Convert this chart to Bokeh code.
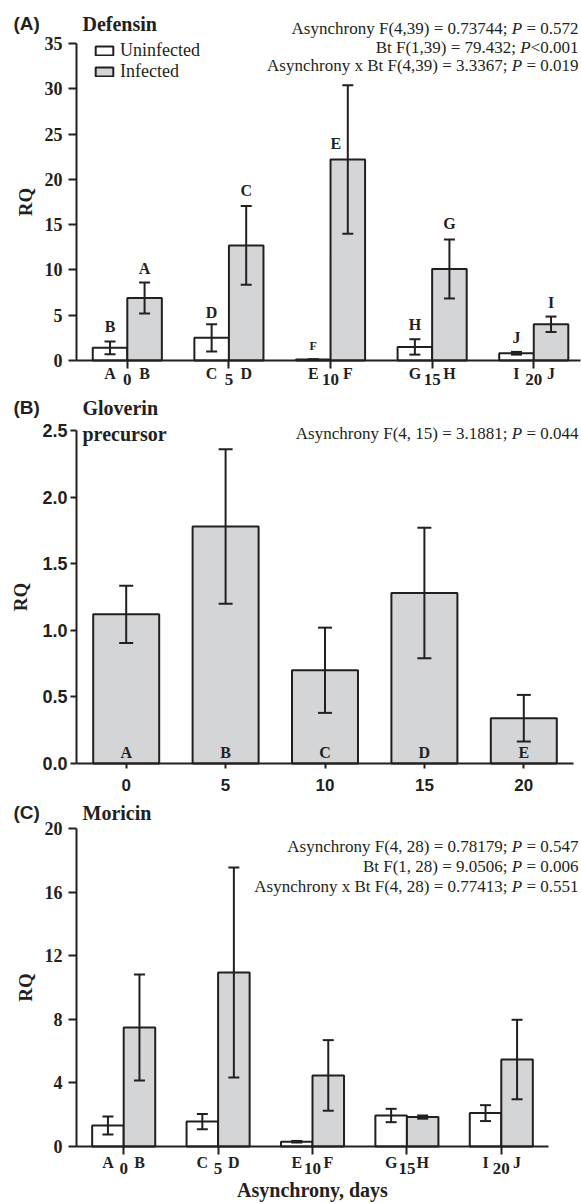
from bokeh.plotting import figure
from bokeh.models import (ColumnDataSource, Label, LabelSet, Whisker, TeeHead,
                          FixedTicker, Legend, LegendItem, Range1d, NumeralTickFormatter)
from bokeh.layouts import column
from bokeh.embed import file_html
from bokeh.resources import INLINE
from bokeh.core.properties import value

# ---------------- data ----------------
days = [0, 5, 10, 15, 20]
unin_codes = ["A", "C", "E", "G", "I"]
inf_codes = ["B", "D", "F", "H", "J"]

# (A) Defensin
def_unin = [1.4, 2.5, 0.1, 1.5, 0.8]
def_unin_se = [0.7, 1.5, 0.05, 0.85, 0.15]
def_inf = [6.9, 12.7, 22.2, 10.1, 4.0]
def_inf_se = [1.7, 4.35, 8.2, 3.25, 0.85]
def_unin_sig = ["B", "D", "F", "H", "J"]
def_inf_sig = ["A", "C", "E", "G", "I"]
def_unin_sig_y = [3.75, 5.3, 1.65, 3.95, 2.55]
def_inf_sig_y = [10.15, 18.75, 23.95, 15.1, 6.4]
def_stats = [("Asynchrony F(4,39) = 0.73744; ", "P", " = 0.572"),
             ("Bt F(1,39) = 79.432; ", "P", "<0.001"),
             ("Asynchrony x Bt F(4,39) = 3.3367; ", "P", " = 0.019")]

# (B) Gloverin precursor
glo = [1.12, 1.78, 0.70, 1.28, 0.34]
glo_se = [0.215, 0.58, 0.32, 0.49, 0.175]
glo_codes = ["A", "B", "C", "D", "E"]
glo_stats = [("Asynchrony F(4, 15) = 3.1881; ", "P", " = 0.044")]

# (C) Moricin
mor_unin = [1.32, 1.57, 0.30, 1.95, 2.10]
mor_unin_se = [0.56, 0.48, 0.05, 0.42, 0.50]
mor_inf = [7.48, 10.94, 4.47, 1.85, 5.47]
mor_inf_se = [3.33, 6.60, 2.22, 0.10, 2.50]
mor_stats = [("Asynchrony F(4, 28) = 0.78179; ", "P", " = 0.547"),
             ("Bt F(1, 28) = 9.0506; ", "P", " = 0.006"),
             ("Asynchrony x Bt F(4, 28) = 0.77413; ", "P", " = 0.551")]

# ---------------- style ----------------
SERIF = "Liberation Serif"
SANS = "Liberation Sans"
DARK = "#231f20"
GRAY = "#d4d5d7"
W = 581

TIMES_W = {" ": 250, "=": 564, "<": 564, ".": 250, ";": 278}
for d in "0123456789":
    TIMES_W[d] = 500


def tw(s, size):
    return sum(TIMES_W.get(c, 500) for c in s) / 1000.0 * size


def lab(p, text, x, y, xoff=0, yoff=0, size=16, font=SERIF, style="bold",
        align="left", baseline="middle", angle=0):
    p.add_layout(Label(x=x, y=y, x_offset=xoff, y_offset=yoff, text=text,
                       text_font=font, text_font_size=f"{size}px",
                       text_font_style=style, text_align=align, angle=angle,
                       text_baseline=baseline, text_color=DARK))


def stats(p, lines, x, y, xoff, yoffs, size=17):
    for (pre, it, tail), yo in zip(lines, yoffs):
        t = tail.strip()
        gap_t = tw(" ", size) if tail.startswith(" ") else 0
        lab(p, t, x, y, xoff, yo, size, SERIF, "normal", "right")
        xp = xoff - tw(t, size) - gap_t
        lab(p, it, x, y, xp, yo, size, SERIF, "italic", "right")
        pr = pre.rstrip()
        gap_p = tw(" ", size) if pre.endswith(" ") else 0
        xq = xp - 0.611 * size - gap_p
        lab(p, pr, x, y, xq, yo, size, SERIF, "normal", "right")


def panel(height, left, right, top, bottom, xlo, xhi, ylo, yhi):
    """Figure whose frame is the whole canvas; axes are pinned at data positions."""
    sx = (right - left) / (xhi - xlo)
    sy = (bottom - top) / (yhi - ylo)
    xr = Range1d(xlo - left / sx, xhi + (W - right) / sx)
    yr = Range1d(ylo - (height - bottom) / sy, yhi + top / sy)
    p = figure(width=W, height=height, x_range=xr, y_range=yr,
               output_backend="svg", toolbar_location=None,
               min_border_left=0, min_border_right=0, min_border_top=0,
               min_border_bottom=0)
    p.xaxis.fixed_location = ylo
    p.yaxis.fixed_location = xlo
    p.xaxis.bounds = (xlo, xhi)
    p.yaxis.bounds = (ylo, yhi)
    p.grid.visible = False
    p.outline_line_color = None
    p.background_fill_color = "white"
    return p


def style_axes(p, xfont, xsize, yfont, ysize, xtick=8, ytick=8, x_standoff=2, y_standoff=6):
    for ax, f, s, t in ((p.xaxis[0], xfont, xsize, xtick), (p.yaxis[0], yfont, ysize, ytick)):
        ax.axis_line_width = 2
        ax.axis_line_color = DARK
        ax.major_tick_line_width = 2
        ax.major_tick_line_color = DARK
        ax.major_tick_out = t
        ax.major_tick_in = 0
        ax.minor_tick_line_color = None
        ax.major_label_text_font = f
        ax.major_label_text_font_size = s
        ax.major_label_text_font_style = "bold"
        ax.major_label_text_color = DARK
    p.xaxis[0].major_label_standoff = x_standoff
    p.yaxis[0].major_label_standoff = y_standoff


def errbars(p, xs, means, ses, cap):
    src = ColumnDataSource(dict(x=xs, lo=[m - s for m, s in zip(means, ses)],
                                hi=[m + s for m, s in zip(means, ses)]))
    w = Whisker(source=src, base="x", lower="lo", upper="hi", dimension="height",
                line_color=DARK, line_width=2, level="overlay",
                upper_head=TeeHead(size=cap, line_color=DARK, line_width=2),
                lower_head=TeeHead(size=cap, line_color=DARK, line_width=2))
    p.add_layout(w)


def letters(p, xs, ys, texts, yoff, size=16):
    src = ColumnDataSource(dict(x=xs, y=ys, t=texts))
    p.add_layout(LabelSet(source=src, x="x", y="y", text="t", y_offset=yoff,
                          text_font=value(SERIF), text_font_size=value(f"{size}px"),
                          text_font_style="bold", text_align="center",
                          text_baseline="middle", text_color=DARK))


RQ_ANGLE = 1.5707963267948966

# ---------------- (A) Defensin ----------------
BWA = 1.7
pA = panel(389, 76, 580, 43, 360, -2.5, 22.3, 0, 35)
ux = [d - BWA / 2 for d in days]
ix = [d + BWA / 2 for d in days]
rA_u = pA.vbar(x=ux, top=def_unin, width=BWA, bottom=0, fill_color="white",
               line_color=DARK, line_width=2)
rA_i = pA.vbar(x=ix, top=def_inf, width=BWA, bottom=0, fill_color=GRAY,
               line_color=DARK, line_width=2)
errbars(pA, ux, def_unin, def_unin_se, 11)
errbars(pA, ix, def_inf, def_inf_se, 11)
style_axes(pA, SERIF, "17px", SERIF, "18px", 8, 8, 5, 6)
pA.xaxis.ticker = FixedTicker(ticks=days)
pA.yaxis.ticker = FixedTicker(ticks=[0, 5, 10, 15, 20, 25, 30, 35])
sig_u_sz = [16, 16, 12, 16, 16]
for x, y, t, s in zip(ux, def_unin_sig_y, def_unin_sig, sig_u_sz):
    lab(pA, t, x, y, 0, 0, s, SERIF, "bold", "center")
for x, y, t in zip(ix, def_inf_sig_y, def_inf_sig):
    lab(pA, t, x, y, -12 if t == "E" else 0, 0, 16, SERIF, "bold", "center")
letters(pA, ux, [0] * 5, unin_codes, -13)
letters(pA, ix, [0] * 5, inf_codes, -13)
lab(pA, "RQ", -2.5, 17.5, -51, 0, 19, SERIF, "bold", "center", "middle", RQ_ANGLE)
lab(pA, "(A)", -2.5, 35, -63, 20, 19, SANS, "bold")
lab(pA, "Defensin", -2.5, 35, 6, 20, 20, SERIF, "bold")
stats(pA, def_stats, 22.3, 35, -2, [15, -4, -22])
legA = Legend(items=[LegendItem(label="Uninfected", renderers=[rA_u]),
                     LegendItem(label="Infected", renderers=[rA_i])],
              location=(93, 307), padding=0, margin=0, spacing=0,
              border_line_color=None, background_fill_alpha=0,
              glyph_width=22, glyph_height=11, label_height=21, label_standoff=5,
              label_text_font=SERIF, label_text_font_size="18px",
              label_text_color=DARK)
pA.add_layout(legA)

# ---------------- (B) Gloverin precursor ----------------
BWB = 3.32
pB = panel(406, 76, 573, 41, 374, -2.5, 22.5, 0, 2.5)
pB.vbar(x=days, top=glo, width=BWB, bottom=0, fill_color=GRAY, line_color=DARK, line_width=2)
errbars(pB, days, glo, glo_se, 14)
style_axes(pB, SANS, "17px", SANS, "18px", 5, 6, 10, 3)
pB.xaxis.ticker = FixedTicker(ticks=days)
pB.yaxis.ticker = FixedTicker(ticks=[0, 0.5, 1.0, 1.5, 2.0, 2.5])
pB.yaxis.formatter = NumeralTickFormatter(format="0.0")
letters(pB, days, [0] * 5, glo_codes, 11)
lab(pB, "RQ", -2.5, 1.25, -56, 0, 19, SERIF, "bold", "center", "middle", RQ_ANGLE)
lab(pB, "(B)", -2.5, 2.5, -63, 23, 19, SANS, "bold")
lab(pB, "Gloverin", -2.5, 2.5, 6, 23, 20, SERIF, "bold")
lab(pB, "precursor", -2.5, 2.5, 6, -3, 20, SERIF, "bold")
stats(pB, glo_stats, 22.5, 2.5, 5, [-3])

# ---------------- (C) Moricin ----------------
BWC = 1.67
pC = panel(408, 76, 548, 33, 351, -2.5, 22.5, 0, 20)
uxc = [d - BWC / 2 for d in days]
ixc = [d + BWC / 2 for d in days]
pC.vbar(x=uxc, top=mor_unin, width=BWC, bottom=0, fill_color="white", line_color=DARK, line_width=2)
pC.vbar(x=ixc, top=mor_inf, width=BWC, bottom=0, fill_color=GRAY, line_color=DARK, line_width=2)
errbars(pC, uxc, mor_unin, mor_unin_se, 11)
errbars(pC, ixc, mor_inf, mor_inf_se, 11)
style_axes(pC, SERIF, "17px", SERIF, "18px", 8, 8, 8, 6)
pC.xaxis.ticker = FixedTicker(ticks=days)
pC.yaxis.ticker = FixedTicker(ticks=[0, 4, 8, 12, 16, 20])
letters(pC, uxc, [0] * 5, unin_codes, -16)
letters(pC, ixc, [0] * 5, inf_codes, -16)
lab(pC, "RQ", -2.5, 10, -51, 0, 19, SERIF, "bold", "center", "middle", RQ_ANGLE)
lab(pC, "(C)", -2.5, 20, -63, 16, 19, SANS, "bold")
lab(pC, "Moricin", -2.5, 20, 6, 16, 20, SERIF, "bold")
stats(pC, mor_stats, 22.5, 20, 30, [-18, -38, -58])
lab(pC, "Asynchrony, days", 10, 0, 0, -43, 20, SERIF, "bold", "center")

layout = column(pA, pB, pC, spacing=0)
open("out.html", "w").write(file_html(layout, INLINE))
